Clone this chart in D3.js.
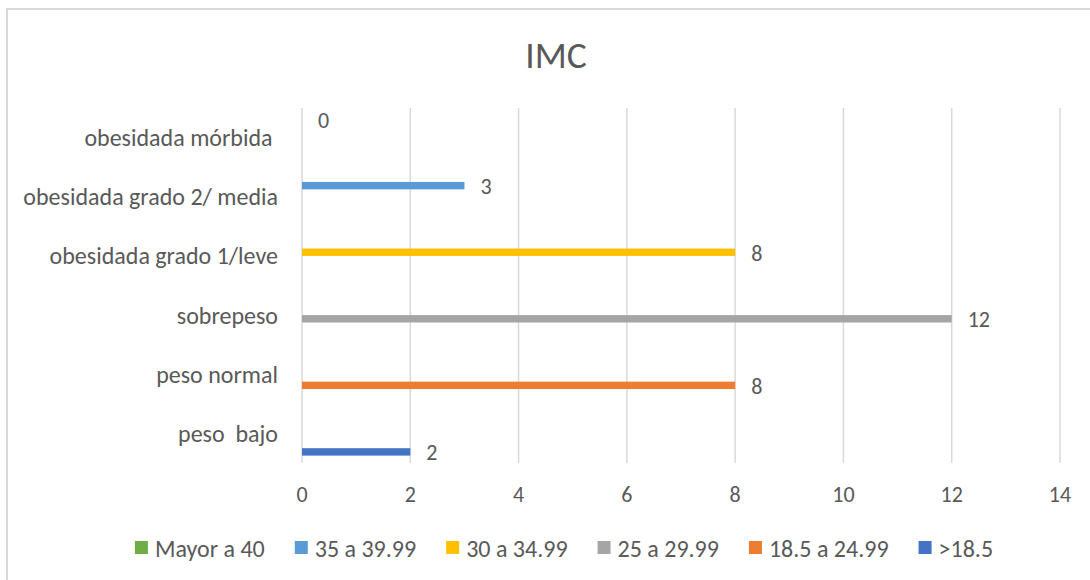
<!DOCTYPE html>
<html>
<head>
<meta charset="utf-8">
<script src="https://cdn.jsdelivr.net/npm/d3@7"></script>
<style>
    body { margin: 0; background: #fff; }
    text { font-family: Carlito, Calibri, Lato, sans-serif; fill: #595959; white-space: pre; }
</style>
</head>
<body>
<div class="imc-chart"></div>
<script>
"use strict";

// categories from bottom to top, as Excel draws them
const categories = ["peso  bajo", "peso normal", "sobrepeso", "obesidada grado 1/leve", "obesidada grado 2/ media", "obesidada mórbida "];
const series_names = [">18.5", "18.5 a 24.99", "25 a 29.99", "30 a 34.99", "35 a 39.99", "Mayor a 40"];
const series_colors = ["#4472C4", "#ED7D31", "#A5A5A5", "#FFC000", "#5B9BD5", "#70AD47"];

const values_menor_185 = [2, null, null, null, null, null];
const values_185_2499 = [null, 8, null, null, null, null];
const values_25_2999 = [null, null, 12, null, null, null];
const values_30_3499 = [null, null, null, 8, null, null];
const values_35_3999 = [null, null, null, null, 3, null];
const values_mayor_40 = [null, null, null, null, null, 0];

const x_ticks = [0, 2, 4, 6, 8, 10, 12, 14];
const legend_order = ["Mayor a 40", "35 a 39.99", "30 a 34.99", "25 a 29.99", "18.5 a 24.99", ">18.5"];

window.onload = () => main();

function main() {
    const config = {
        width: 1090,
        height: 580,
        plot: { left: 302, right: 1060, top: 108, bottom: 463 },
        label_size: 24,
        number_size: 22,
        title_size: 37.5
    };
    create_imc_chart(config);
}

function create_imc_chart(config) {
    const all_values = [values_menor_185, values_185_2499, values_25_2999, values_30_3499, values_35_3999, values_mayor_40];
    const rows = [];
    series_names.forEach((name, i) => {
        all_values[i].forEach((v, j) => {
            if (v !== null) rows.push({ series: name, category: categories[j], value: v, color: series_colors[i] });
        });
    });

    const svg = d3.select(".imc-chart")
        .append("svg")
        .attr("width", config.width)
        .attr("height", config.height);

    // chart area border
    svg.append("rect")
        .attr("x", 7).attr("y", 9)
        .attr("width", 1100).attr("height", 600)
        .attr("fill", "none")
        .attr("stroke", "#d9d9d9")
        .attr("stroke-width", 2);

    const p = config.plot;
    const x = d3.scaleLinear().domain([0, 14]).range([p.left, p.right]);
    const y = d3.scaleBand().domain(categories.slice().reverse()).range([p.top, p.bottom]);
    const y_inner = d3.scaleBand()
        .domain(series_names.slice().reverse())
        .range([0, y.bandwidth()])
        .paddingOuter(1);

    // gridlines
    svg.append("g")
        .selectAll("line")
        .data(x_ticks)
        .join("line")
        .attr("x1", d => x(d)).attr("x2", d => x(d))
        .attr("y1", p.top).attr("y2", p.bottom)
        .attr("stroke", "#d9d9d9")
        .attr("stroke-width", 1.5);

    // tick labels
    svg.append("g")
        .selectAll("text")
        .data(x_ticks)
        .join("text")
        .attr("x", d => x(d))
        .attr("y", 494)
        .attr("text-anchor", "middle")
        .attr("dominant-baseline", "central")
        .style("font-size", config.number_size + "px")
        .text(d => d);

    // category labels
    svg.append("g")
        .selectAll("text")
        .data(categories)
        .join("text")
        .attr("x", p.left - 24)
        .attr("y", d => y(d) + y.bandwidth() / 2)
        .attr("text-anchor", "end")
        .attr("dominant-baseline", "central")
        .style("font-size", config.label_size + "px")
        .text(d => d);

    // bars
    svg.append("g")
        .selectAll("rect")
        .data(rows)
        .join("rect")
        .attr("x", x(0))
        .attr("y", d => y(d.category) + y_inner(d.series))
        .attr("width", d => x(d.value) - x(0))
        .attr("height", y_inner.bandwidth())
        .attr("fill", d => d.color);

    // data labels
    svg.append("g")
        .selectAll("text")
        .data(rows)
        .join("text")
        .attr("x", d => x(d.value) + 16)
        .attr("y", d => y(d.category) + y_inner(d.series) + y_inner.bandwidth() / 2 + 1)
        .attr("dominant-baseline", "central")
        .style("font-size", config.number_size + "px")
        .text(d => d.value);

    // title
    svg.append("text")
        .attr("x", 556)
        .attr("y", 68)
        .attr("text-anchor", "middle")
        .style("font-size", config.title_size + "px")
        .text("IMC");

    // legend, laid out from measured text widths and centred
    const legend = svg.append("g");
    const items = legend.selectAll("g")
        .data(legend_order)
        .join("g");
    items.append("rect")
        .attr("width", 13).attr("height", 13)
        .attr("y", 541)
        .attr("fill", d => series_colors[series_names.indexOf(d)]);
    items.append("text")
        .attr("x", 20)
        .attr("y", 548)
        .attr("dominant-baseline", "central")
        .style("font-size", config.label_size + "px")
        .text(d => d);
    let offset = 0;
    const offsets = [];
    items.each(function() {
        offsets.push(offset);
        const w = d3.select(this).select("text").node().getComputedTextLength();
        offset += 20 + w + 30;
    });
    const total = offset - 30;
    const start = 564 - total / 2;
    items.attr("transform", (d, i) => `translate(${start + offsets[i]},0)`);
}
</script>
</body>
</html>
